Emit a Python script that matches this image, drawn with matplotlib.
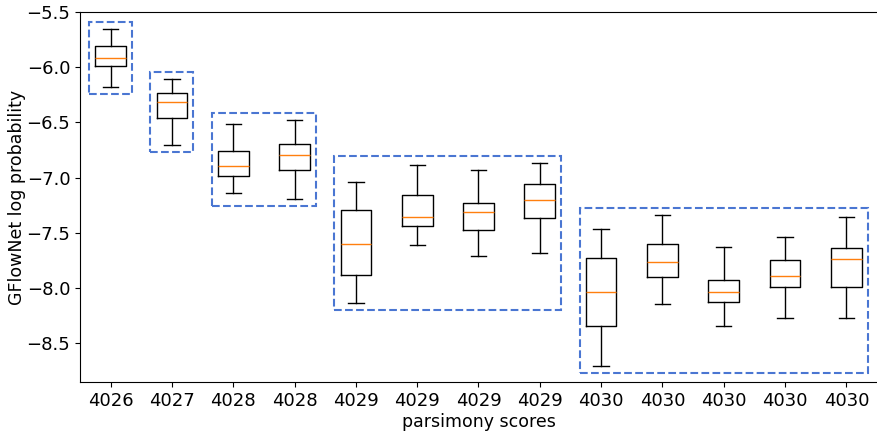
import matplotlib
matplotlib.use("Agg")
import matplotlib.pyplot as plt
from matplotlib.patches import Rectangle

# box statistics (one entry per box)
labels = ["4026", "4027", "4028", "4028", "4029", "4029", "4029", "4029",
          "4030", "4030", "4030", "4030", "4030"]
whishi = [-5.657, -6.109, -6.516, -6.479, -7.037, -6.883, -6.926, -6.868,
          -7.465, -7.339, -7.628, -7.540, -7.360]
q3 = [-5.805, -6.235, -6.754, -6.696, -7.293, -7.161, -7.233, -7.061,
      -7.727, -7.600, -7.926, -7.742, -7.637]
med = [-5.919, -6.317, -6.890, -6.796, -7.600, -7.354, -7.311, -7.206,
       -8.038, -7.767, -8.032, -7.890, -7.733]
q1 = [-5.991, -6.461, -6.983, -6.931, -7.881, -7.438, -7.474, -7.369,
      -8.345, -7.896, -8.128, -7.993, -7.986]
whislo = [-6.181, -6.706, -7.137, -7.194, -8.137, -7.607, -7.706, -7.679,
          -8.701, -8.146, -8.339, -8.273, -8.267]

# groups of boxes sharing a parsimony score (0-based index ranges)
groups = [(0, 0), (1, 1), (2, 3), (4, 7), (8, 12)]

stats = []
for i in range(len(labels)):
    stats.append(dict(med=med[i], q1=q1[i], q3=q3[i],
                      whislo=whislo[i], whishi=whishi[i], fliers=[]))

fig = plt.figure(figsize=(8.77, 4.32), dpi=100)
ax = fig.add_axes([0.0912, 0.1157, 0.9088, 0.8565])

positions = list(range(1, len(labels) + 1))
ax.bxp(stats, positions=positions, widths=0.5, showfliers=False)

# dashed frames around each group
pad_x, pad_y = 0.35, 0.065
for a, b in groups:
    top = max(whishi[a:b + 1]) + pad_y
    bot = min(whislo[a:b + 1]) - pad_y
    left = positions[a] - pad_x
    right = positions[b] + pad_x
    ax.add_patch(Rectangle((left, bot), right - left, top - bot,
                           fill=False, edgecolor="#4a76d2",
                           linestyle="--", linewidth=1.5))

ax.set_xticks(positions)
ax.set_xticklabels(labels)
ax.set_xlim(0.5, 13.5)
ax.set_ylim(-8.85, -5.5)
ax.set_yticks([-8.5, -8.0, -7.5, -7.0, -6.5, -6.0, -5.5])
ax.tick_params(labelsize=13)
ax.set_xlabel("parsimony scores", fontsize=12.5, labelpad=2)
ax.set_ylabel("GFlowNet log probability", fontsize=12.5, labelpad=0)
ax.spines["right"].set_visible(False)

fig.savefig("out.png", dpi=100)
